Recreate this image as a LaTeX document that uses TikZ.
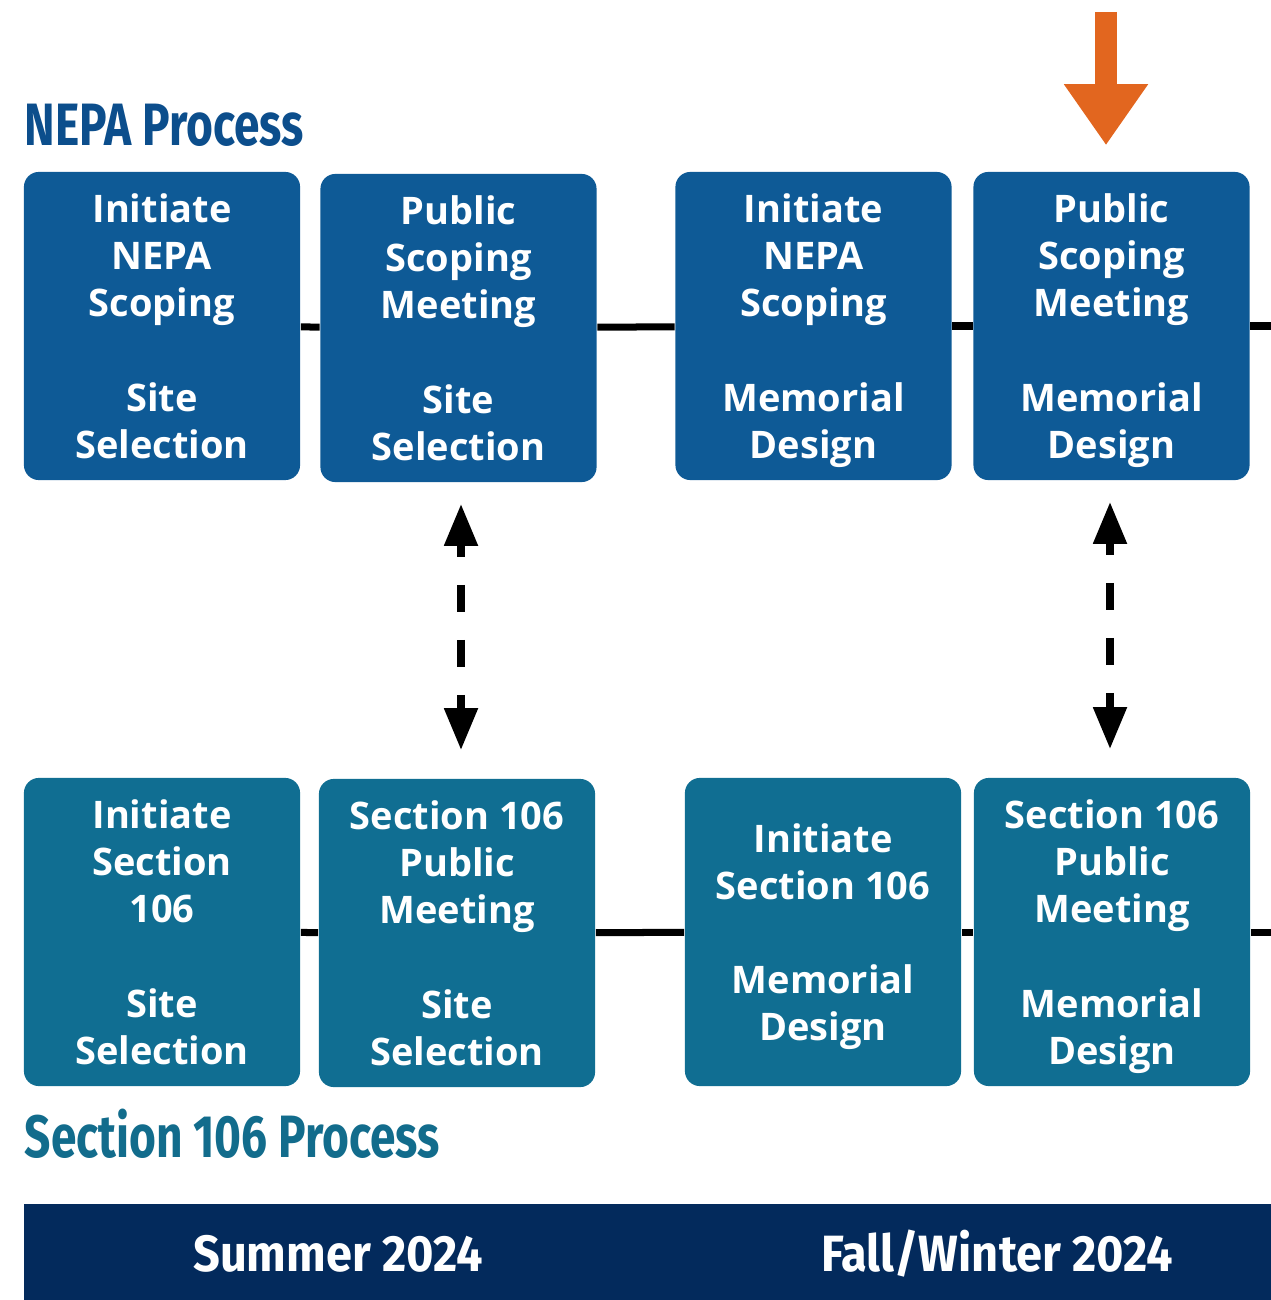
\documentclass[tikz,border=0pt]{standalone}
\usepackage{fontspec}
\usetikzlibrary{arrows.meta}
\newfontfamily\boxfont{Open Sans}
\newfontfamily\headfont{Fira Sans}[FakeStretch=0.77]
\newfontfamily\barfont{Fira Sans}[FakeStretch=0.92]
\definecolor{nepablue}{RGB}{14,90,150}
\definecolor{nepahead}{RGB}{12,78,140}
\definecolor{secteal}{RGB}{16,110,146}
\definecolor{sechead}{RGB}{18,108,140}
\definecolor{barnavy}{RGB}{3,42,92}
\definecolor{nowarrow}{RGB}{226,102,31}
\begin{document}
\begin{tikzpicture}
[x=0.01cm,y=-0.01cm,
nepabox/.style={rectangle,rounded corners=0.15cm,fill=nepablue,text=white,
  minimum width=2.76cm,minimum height=3.08cm,inner sep=0pt,align=center,text depth=0pt,
  font=\boxfont\bfseries\fontsize{10.8}{13.4}\selectfont},
secbox/.style={nepabox,fill=secteal},
timeline/.style={line width=0.07cm},
linkarrow/.style={line width=0.08cm,{Triangle[width=0.32cm,length=0.42cm]}-{Triangle[width=0.32cm,length=0.42cm]},
  dash pattern=on 0.27cm off 0.28cm,dash phase=0.14cm,shorten <=0.21cm,shorten >=0.28cm},
heading/.style={anchor=base west,inner sep=0pt,font=\headfont\bfseries\fontsize{17}{17}\selectfont},
barlabel/.style={anchor=base,inner sep=0pt,text=white,font=\barfont\bfseries\fontsize{14.5}{14.5}\selectfont}]
\useasboundingbox (0,0) rectangle (1271,1300);
\node (nepatitle) at (24,146) [heading,text=nepahead] {NEPA Process};
\node (nb1) at (162,326) [nepabox] {Initiate\\NEPA\\Scoping\\[13.4pt]Site\\Selection};
\node (nb2) at (458.5,328) [nepabox] {Public\\Scoping\\Meeting\\[13.4pt]Site\\Selection};
\node (nb3) at (813.5,326) [nepabox] {Initiate\\NEPA\\Scoping\\[13.4pt]Memorial\\Design};
\node (nb4) at (1111.5,326) [nepabox] {Public\\Scoping\\Meeting\\[13.4pt]Memorial\\Design};
\coordinate (nepaend) at (1271,326);
\node (sb1) at (162,932) [secbox] {Initiate\\Section\\106\\[13.4pt]Site\\Selection};
\node (sb2) at (457,933) [secbox] {Section 106\\Public\\Meeting\\[13.4pt]Site\\Selection};
\node (sb3) at (823,932) [secbox,text depth=-0.16cm] {Initiate\\Section 106\\[13.4pt]Memorial\\Design};
\node (sb4) at (1112,932) [secbox] {Section 106\\Public\\Meeting\\[13.4pt]Memorial\\Design};
\coordinate (secend) at (1271,932);
\node (sectitle) at (24,1157) [heading,text=sechead] {Section 106 Process};
\draw[timeline] (nb1) -- (nb2);
\draw[timeline] (nb2) -- (nb3);
\draw[timeline] (nb3) -- (nb4);
\draw[timeline] (nb4) -- (nepaend);
\draw[timeline] (sb1) -- (sb2);
\draw[timeline] (sb2) -- (sb3);
\draw[timeline] (sb3) -- (sb4);
\draw[timeline] (sb4) -- (secend);
\draw[linkarrow] (nb2.south -| 461,0) -- (sb2.north -| 461,0);
\draw[linkarrow] (nb4.south -| 1110,0) -- (sb4.north -| 1110,0);
\coordinate (nowstart) at (1106,12);
\draw[nowarrow,line width=0.22cm,-{Triangle[width=0.8cm,length=0.61cm]},shorten >=0.26cm] (nowstart) -- (nowstart |- nb4.north);
\fill[barnavy] (24,1204) rectangle (1271,1300);
\node (summer) at (338,1271) [barlabel] {Summer 2024};
\node (fall) at (997,1271) [barlabel] {Fall/Winter 2024};
\end{tikzpicture}
\end{document}
